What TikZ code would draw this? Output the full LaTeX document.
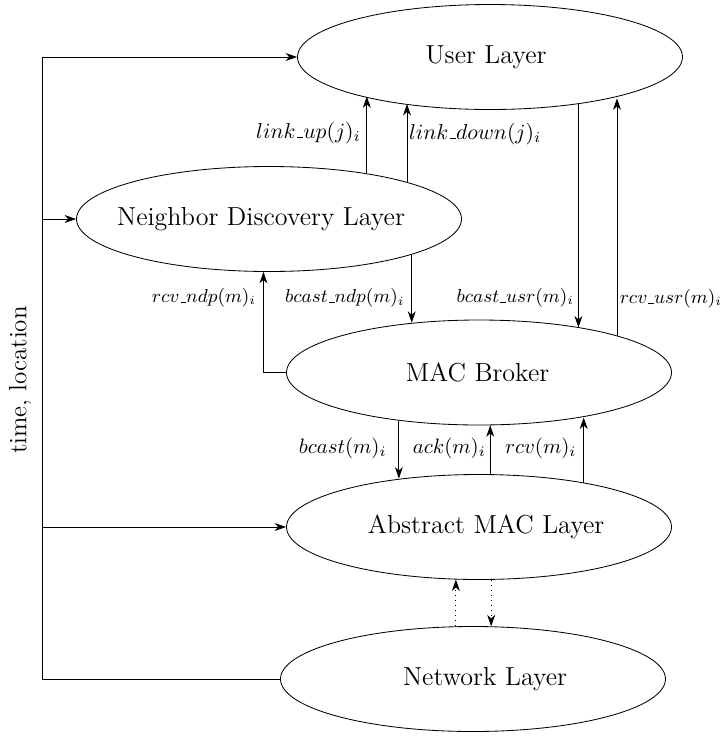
\documentclass[tikz,border=0pt]{standalone}
\usetikzlibrary{shapes.geometric,arrows.meta}
\newcommand{\usc}{\mathord{\kern.06em\vbox{\hrule width.3em}}}
\tikzset{
  layer/.style={ellipse, draw, minimum width=184.8pt, minimum height=50.4pt, inner sep=0pt},
  laytext/.style={font=\fontsize{12.5}{15}\selectfont, inner sep=0pt},
  conn/.style={-{Stealth[length=5.5pt,width=3.8pt,inset=1.7pt]}},
  big/.style={font=\normalsize},
  lnk/.style={font=\normalsize, scale=1.04},
  sml/.style={font=\small}
}
\begin{document}
\begin{tikzpicture}[x=0.48pt,y=-0.48pt]
\useasboundingbox (0,0) rectangle (723,736);
\node[layer, label={[laytext, xshift=-1.9pt]center:User Layer}] (UL) at (490,57) {};
\node[layer, label={[laytext, xshift=-3.8pt]center:Neighbor Discovery Layer}] (ND) at (269,219) {};
\node[layer, label={[laytext, xshift=-0.7pt]center:MAC Broker}] (MB) at (479,372.5) {};
\node[layer, label={[laytext, xshift=3.4pt]center:Abstract MAC Layer}] (AML) at (479,527) {};
\node[layer, label={[laytext, xshift=5.8pt]center:Network Layer}] (NL) at (473,679) {};
\node[rotate=90, font=\large] (TL) at (20,380) {time, location};
\coordinate (rail) at (42,0);

% time, location rail
\draw[conn] (NL.west) -- (NL.west -| rail) -- (rail |- UL.west) -- (UL.west);
\draw[conn] (rail |- ND.west) -- (ND.west);
\draw[conn] (rail |- AML.west) -- (AML.west);

% ND -> UL
\draw[conn] (ND.25.67) -- node[pos=0.53, left, lnk, xshift=0.8pt] {$link\usc up(j)_i$} (ND.25.67 |- UL.197.5);
\draw[conn] (ND.15.82) -- node[pos=0.62, right, lnk, xshift=-2.6pt] {$link\usc down(j)_i$} (ND.15.82 |- UL.208.1);

% ND <-> MB
\draw[conn] (ND.346.4) -- node[pos=0.64, left, sml] {$bcast\usc ndp(m)_i$} (ND.346.4 |- MB.143.23);
\draw[conn] (MB.west) -| node[pos=0.87, left, sml] {$rcv\usc ndp(m)_i$} (ND.264.56);

% UL <-> MB
\draw[conn] (UL.332.05) -- node[pos=0.868, left, sml, xshift=1.4pt] {$bcast\usc usr(m)_i$} (UL.332.05 |- MB.24.46);
\draw[conn] (MB.15.95) -- node[pos=0.154, right, sml, xshift=-2.2pt] {$rcv\usc usr(m)_i$} (MB.15.95 |- UL.341.6);

% MB <-> AML
\draw[conn] (MB.211.22) -- node[pos=0.47, left, big, xshift=-2.4pt] {$bcast(m)_i$} (MB.211.22 |- AML.148.78);
\draw[conn] (AML.78.13) -- node[pos=0.53, left, big, xshift=1.4pt] {$ack(m)_i$} (AML.78.13 |- MB.281.87);
\draw[conn] (AML.23.3) -- node[pos=0.53, left, big] {$rcv(m)_i$} (AML.23.3 |- MB.336.7);

% AML <-> NL
\draw[conn, dotted] (NL.108.49) -- (NL.108.49 |- AML.245.73);
\draw[conn, dotted] (AML.283.96) -- (AML.283.96 |- NL.70);
\end{tikzpicture}
\end{document}
